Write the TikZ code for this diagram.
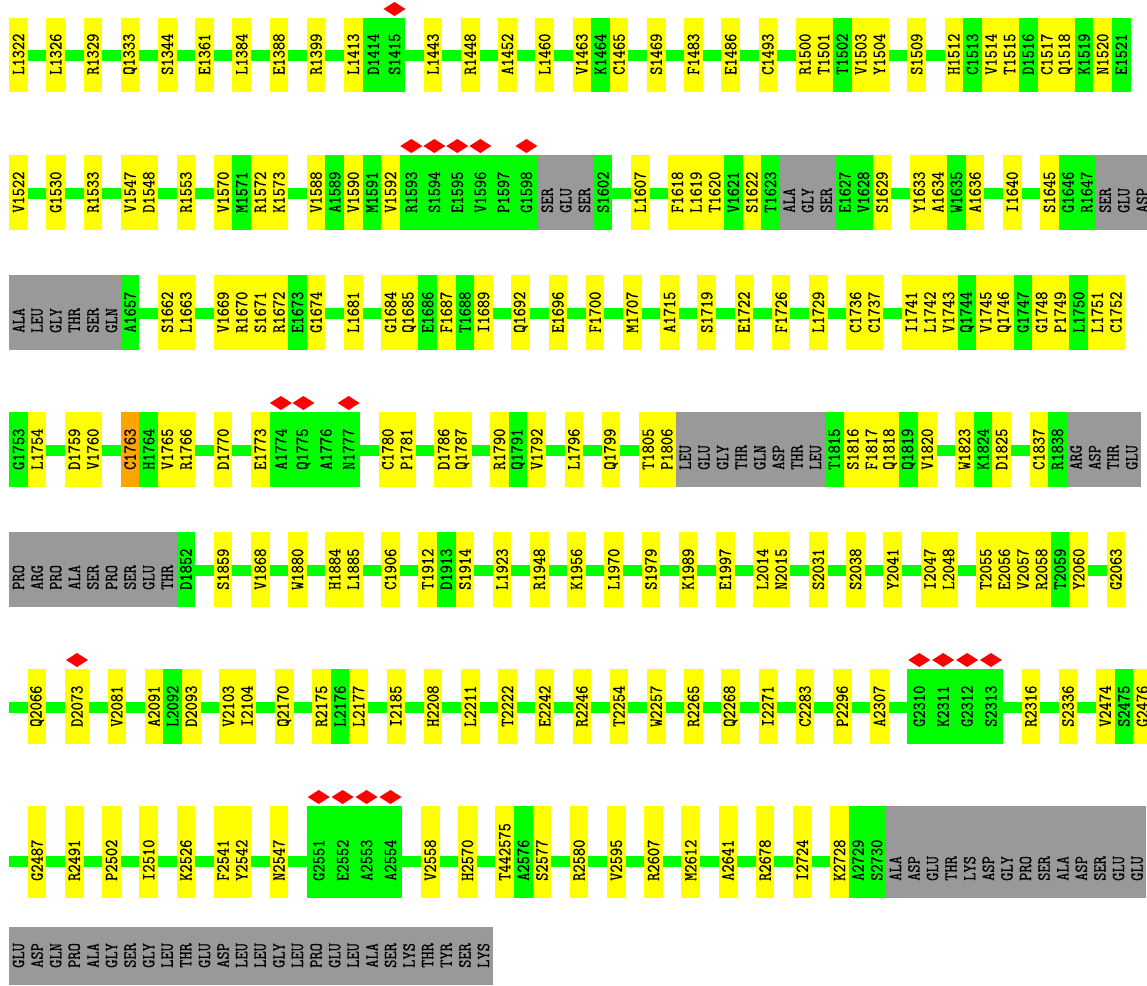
\documentclass[tikz,border=0pt]{standalone}
\usepackage{fontspec}
\newfontfamily\labfont{Latin Modern Mono}[FakeBold=0.8]
\definecolor{cy}{RGB}{255,255,0}
\definecolor{cg}{RGB}{0,255,0}
\definecolor{cgr}{RGB}{153,153,153}
\definecolor{co}{RGB}{255,165,0}
\definecolor{cr}{RGB}{255,0,0}
\pgfdeclarelayer{bg}
\pgfsetlayers{bg,main}
\newcount\labcnt
\def\U{18.6}
\def\DW{5.3}
\newcommand\ROW[2]{\xdef\cx{9.2}\xdef\rt{#1}\xdef\rb{#2}}
\newcommand\GP{\pgfmathsetmacro\tmpx{\cx+\U}\xdef\cx{\tmpx}}
\newcommand\ROWEND{\begin{pgfonlayer}{bg}\fill[cg] (9.2,{\rb-42}) rectangle (\cx,{\rb-31});\end{pgfonlayer}}
\newcommand\RUN[3]{%
  \foreach \l [count=\i] in {#2} {\xdef\nn{\i}}%
  \xdef\nd{0}%
  \def\tmpa{#3}%
  \ifx\tmpa\empty\else\foreach \k [count=\j] in {#3} {\xdef\nd{\j}}\fi
  \pgfmathsetmacro\rw{\nn*\U+\nd*\DW}%
  \fill[#1] (\cx,\rt) rectangle ({\cx+\rw},\rb);
  \pgfmathsetmacro\lw{\rw/\nn}%
  \foreach \l [count=\i] in {#2} {%
    \global\advance\labcnt by 1
    \node[lab, name=lab\the\labcnt] at ({\cx+(\i-0.5)*\lw},{\rb-17}) {\l};}%
  \ifx\tmpa\empty\else
  \foreach \k in {#3} {\fill[cr] ({\cx+(\k-0.5)*\lw-11},{\rt-9}) -- ++(11,-7) -- ++(11,7) -- ++(-11,7) -- cycle;}%
  \fi
  \pgfmathsetmacro\tmpx{\cx+\rw}\xdef\cx{\tmpx}%
}
\tikzset{lab/.style={rotate=90, yscale=1.15, anchor=west, inner sep=0pt, font=\fontsize{16}{16}\selectfont\labfont}}
\begin{document}
\begin{tikzpicture}[x=1pt,y=-1pt]
\useasboundingbox (0,0) rectangle (1147,985);
\clip (0,0) rectangle (1147,985);
% Row 1
\ROW{18}{92}
\RUN{cy}{L1322}{}\GP\RUN{cy}{L1326}{}\GP\RUN{cy}{R1329}{}\GP\RUN{cy}{Q1333}{}\GP
\RUN{cy}{S1344}{}\GP\RUN{cy}{E1361}{}\GP\RUN{cy}{L1384}{}\GP\RUN{cy}{E1388}{}\GP
\RUN{cy}{R1399}{}\GP\RUN{cy}{L1413}{}\RUN{cg}{D1414,S1415}{2}\GP
\RUN{cy}{L1443}{}\GP\RUN{cy}{R1448}{}\GP\RUN{cy}{A1452}{}\GP\RUN{cy}{L1460}{}\GP
\RUN{cy}{V1463}{}\RUN{cg}{K1464}{}\RUN{cy}{C1465}{}\GP\RUN{cy}{S1469}{}\GP
\RUN{cy}{F1483}{}\GP\RUN{cy}{E1486}{}\GP\RUN{cy}{C1493}{}\GP
\RUN{cy}{R1500,T1501}{}\RUN{cg}{T1502}{}\RUN{cy}{V1503,Y1504}{}\GP\RUN{cy}{S1509}{}\GP
\RUN{cy}{H1512}{}\RUN{cg}{C1513}{}\RUN{cy}{V1514,T1515}{}\RUN{cg}{D1516}{}
\RUN{cy}{C1517,Q1518}{}\RUN{cg}{K1519}{}\RUN{cy}{N1520}{}\RUN{cg}{E1521}{}
\ROWEND
% Row 2
\ROW{155}{230}
\RUN{cy}{V1522}{}\GP\RUN{cy}{G1530}{}\GP\RUN{cy}{R1533}{}\GP\RUN{cy}{V1547,D1548}{}\GP
\RUN{cy}{R1553}{}\GP\RUN{cy}{V1570}{}\RUN{cg}{M1571}{}\RUN{cy}{R1572,K1573}{}\GP
\RUN{cy}{V1588}{}\RUN{cg}{A1589}{}\RUN{cy}{V1590}{}\RUN{cg}{M1591}{}\RUN{cy}{V1592}{}
\RUN{cg}{R1593,S1594,E1595,V1596,P1597,G1598}{1,2,3,4,6}
\RUN{cgr}{SER,GLU,SER}{}\RUN{cg}{S1602}{}\GP\RUN{cy}{L1607}{}\GP
\RUN{cy}{F1618,L1619,T1620}{}\RUN{cg}{V1621}{}\RUN{cy}{S1622}{}\RUN{cg}{T1623}{}
\RUN{cgr}{ALA,GLY,SER}{}\RUN{cg}{E1627,V1628}{}\RUN{cy}{S1629}{}\GP
\RUN{cy}{Y1633,A1634}{}\RUN{cg}{W1635}{}\RUN{cy}{A1636}{}\GP\RUN{cy}{I1640}{}\GP
\RUN{cy}{S1645}{}\RUN{cg}{G1646,R1647}{}\RUN{cgr}{SER,GLU,ASP}{}
\ROWEND
% Row 3
\ROW{275}{350}
\RUN{cgr}{ALA,LEU,GLY,THR,SER,GLN}{}\RUN{cg}{A1657}{}\GP\RUN{cy}{S1662,L1663}{}\GP
\RUN{cy}{V1669,R1670,S1671,R1672}{}\RUN{cg}{E1673}{}\RUN{cy}{G1674}{}\GP\RUN{cy}{L1681}{}\GP
\RUN{cy}{G1684,Q1685}{}\RUN{cg}{E1686}{}\RUN{cy}{F1687}{}\RUN{cg}{T1688}{}\RUN{cy}{I1689}{}\GP
\RUN{cy}{Q1692}{}\GP\RUN{cy}{E1696}{}\GP\RUN{cy}{F1700}{}\GP\RUN{cy}{M1707}{}\GP
\RUN{cy}{A1715}{}\GP\RUN{cy}{S1719}{}\GP\RUN{cy}{E1722}{}\GP\RUN{cy}{F1726}{}\GP
\RUN{cy}{L1729}{}\GP\RUN{cy}{C1736,C1737}{}\GP
\RUN{cy}{I1741,L1742,V1743}{}\RUN{cg}{Q1744}{}\RUN{cy}{V1745,Q1746}{}\RUN{cg}{G1747}{}
\RUN{cy}{G1748,P1749}{}\RUN{cg}{L1750}{}\RUN{cy}{L1751,C1752}{}
\ROWEND
% Row 4
\ROW{412}{487}
\RUN{cg}{G1753}{}\RUN{cy}{L1754}{}\GP\RUN{cy}{D1759,V1760}{}\GP
\RUN{co}{C1763}{}\RUN{cg}{H1764}{}\RUN{cy}{V1765,R1766}{}\GP\RUN{cy}{D1770}{}\GP
\RUN{cy}{E1773}{}\RUN{cg}{A1774,Q1775,A1776,N1777}{1,2,4}\GP
\RUN{cy}{C1780,P1781}{}\GP\RUN{cy}{D1786,Q1787}{}\GP
\RUN{cy}{R1790}{}\RUN{cg}{Q1791}{}\RUN{cy}{V1792}{}\GP\RUN{cy}{L1796}{}\GP
\RUN{cy}{Q1799}{}\GP\RUN{cy}{T1805,P1806}{}
\RUN{cgr}{LEU,GLU,GLY,THR,GLN,ASP,THR,LEU}{}\RUN{cg}{T1815}{}
\RUN{cy}{S1816,F1817,Q1818}{}\RUN{cg}{Q1819}{}\RUN{cy}{V1820}{}\GP
\RUN{cy}{W1823}{}\RUN{cg}{K1824}{}\RUN{cy}{D1825}{}\GP
\RUN{cy}{C1837}{}\RUN{cg}{R1838}{}\RUN{cgr}{ARG,ASP,THR,GLU}{}
\ROWEND
% Row 5
\ROW{532}{607}
\RUN{cgr}{PRO,ARG,PRO,ALA,SER,PRO,SER,GLU,THR}{}\RUN{cg}{D1852}{}\GP
\RUN{cy}{S1859}{}\GP\RUN{cy}{V1868}{}\GP\RUN{cy}{W1880}{}\GP\RUN{cy}{H1884,L1885}{}\GP
\RUN{cy}{C1906}{}\GP\RUN{cy}{T1912}{}\RUN{cg}{D1913}{}\RUN{cy}{S1914}{}\GP
\RUN{cy}{L1923}{}\GP\RUN{cy}{R1948}{}\GP\RUN{cy}{K1956}{}\GP\RUN{cy}{L1970}{}\GP
\RUN{cy}{S1979}{}\GP\RUN{cy}{K1989}{}\GP\RUN{cy}{E1997}{}\GP\RUN{cy}{L2014,N2015}{}\GP
\RUN{cy}{S2031}{}\GP\RUN{cy}{S2038}{}\GP\RUN{cy}{Y2041}{}\GP\RUN{cy}{I2047,L2048}{}\GP
\RUN{cy}{T2055,E2056,V2057,R2058}{}\RUN{cg}{T2059}{}\RUN{cy}{Y2060}{}\GP\RUN{cy}{G2063}{}
\ROWEND
% Row 6
\ROW{669}{744}
\GP\RUN{cy}{Q2066}{}\GP\RUN{cy}{D2073}{1}\GP\RUN{cy}{V2081}{}\GP
\RUN{cy}{A2091}{}\RUN{cg}{L2092}{}\RUN{cy}{D2093}{}\GP\RUN{cy}{V2103,I2104}{}\GP
\RUN{cy}{Q2170}{}\GP\RUN{cy}{R2175}{}\RUN{cg}{L2176}{}\RUN{cy}{L2177}{}\GP
\RUN{cy}{I2185}{}\GP\RUN{cy}{H2208}{}\GP\RUN{cy}{L2211}{}\GP\RUN{cy}{T2222}{}\GP
\RUN{cy}{E2242}{}\GP\RUN{cy}{R2246}{}\GP\RUN{cy}{T2254}{}\GP\RUN{cy}{W2257}{}\GP
\RUN{cy}{R2265}{}\GP\RUN{cy}{Q2268}{}\GP\RUN{cy}{I2271}{}\GP\RUN{cy}{C2283}{}\GP
\RUN{cy}{P2296}{}\GP\RUN{cy}{A2307}{}\GP\RUN{cg}{G2310,K2311,G2312,S2313}{1,2,3,4}\GP
\RUN{cy}{R2316}{}\GP\RUN{cy}{S2336}{}\GP\RUN{cy}{V2474}{}\RUN{cg}{S2475}{}\RUN{cy}{G2476}{}
\ROWEND
% Row 7
\ROW{806}{898}
\GP\RUN{cy}{G2487}{}\GP\RUN{cy}{R2491}{}\GP\RUN{cy}{P2502}{}\GP\RUN{cy}{I2510}{}\GP
\RUN{cy}{K2526}{}\GP\RUN{cy}{F2541,Y2542}{}\GP\RUN{cy}{N2547}{}\GP
\RUN{cg}{G2551,E2552,A2553,A2554}{1,2,3,4}\GP\RUN{cy}{V2558}{}\GP\RUN{cy}{H2570}{}\GP
\RUN{cy}{T442575}{}\RUN{cg}{A2576}{}\RUN{cy}{S2577}{}\GP\RUN{cy}{R2580}{}\GP
\RUN{cy}{V2595}{}\GP\RUN{cy}{R2607}{}\GP\RUN{cy}{M2612}{}\GP\RUN{cy}{A2641}{}\GP
\RUN{cy}{R2678}{}\GP\RUN{cy}{I2724}{}\GP\RUN{cy}{K2728}{}\RUN{cg}{A2729,S2730}{}
\RUN{cgr}{ALA,ASP,GLU,THR,LYS,ASP,GLY,PRO,SER,ALA,ASP,SER,GLU,GLU}{}
\ROWEND
% Row 8
\ROW{927}{985}
\RUN{cgr}{GLU,ASP,GLN,PRO,ALA,GLY,SER,GLY,LEU,THR,GLU,ASP,LEU,LEU,GLY,LEU,PRO,GLU,LEU,ALA,SER,LYS,THR,TYR,SER,LYS}{}
\end{tikzpicture}
\end{document}
